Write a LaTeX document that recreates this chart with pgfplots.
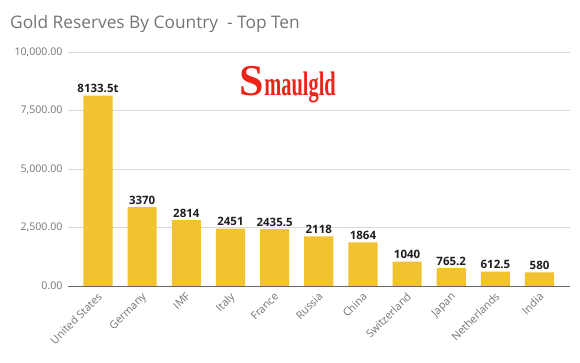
\documentclass[border=0pt]{standalone}
\usepackage{pgfplots}
\pgfplotsset{compat=1.18}
\usepackage{pgfplotstable}
\usepackage{fontspec}
\setmainfont{Open Sans}
\newfontfamily\logofont{Liberation Serif}
\definecolor{bary}{RGB}{241,194,50}
\definecolor{txtg}{RGB}{117,117,117}
\definecolor{gridg}{RGB}{217,217,217}
\definecolor{logor}{RGB}{235,35,25}
\pgfplotstableread{
x y lab
0 8133.5 8133.5t
1 3370 3370
2 2814 2814
3 2451 2451
4 2435.5 2435.5
5 2118 2118
6 1864 1864
7 1040 1040
8 765.2 765.2
9 612.5 612.5
10 580 580
}\gold
\begin{document}
\begin{tikzpicture}[x=1pt,y=1pt]
\path[use as bounding box,fill=white] (0,0) rectangle (580,362);
\node[anchor=base west,text=txtg,font=\fontsize{17.3}{18}\selectfont,inner sep=0pt] at (10,333) {Gold Reserves By Country\ \ - Top Ten};
\begin{axis}[
  at={(68pt,76pt)}, anchor=south west,
  scale only axis, width=502pt, height=234pt,
  xmin=-0.68, xmax=10.69, ymin=0, ymax=10000,
  axis line style={draw=none},
  ytick={0,2500,5000,7500,10000},
  ymajorgrids, grid style={gridg, line width=0.8pt},
  major tick length=0pt,
  /pgf/number format/fixed,
  /pgf/number format/fixed zerofill,
  /pgf/number format/precision=2,
  /pgf/number format/1000 sep={,},
  /pgf/number format/assume math mode=true,
  yticklabel style={text=txtg, font=\fontsize{10.6}{11}\selectfont, xshift=-2pt},
  scaled y ticks=false,
  xtick=data,
  xticklabels={United States,Germany,IMF,Italy,France,Russia,China,Switzerland,Japan,Netherlands,India},
  xticklabel style={xshift=-1pt, yshift=-4pt, rotate=45, anchor=north east, text=txtg, font=\fontsize{10.8}{11}\selectfont, inner sep=1pt},
  clip=false,
]
\addplot[ybar, bar width=0.66, fill=bary, draw=none,
  nodes near coords, point meta=explicit symbolic,
  every node near coord/.append style={font=\bfseries\fontsize{11.5}{12}\selectfont, text=black!88, inner sep=2.5pt}]
  table[x=x,y=y,meta=lab]{\gold};
\draw[black!60, line width=0.9pt] (axis cs:-0.68,0) -- (axis cs:10.69,0);
\node[text=logor, fill=white, inner xsep=10pt, inner ysep=4pt] at (axis cs:4.3,8600) {\logofont\bfseries\fontsize{44}{44}\selectfont S\scalebox{0.6}[1]{\fontsize{34}{34}\selectfont maulgld}};
\end{axis}
\end{tikzpicture}
\end{document}
